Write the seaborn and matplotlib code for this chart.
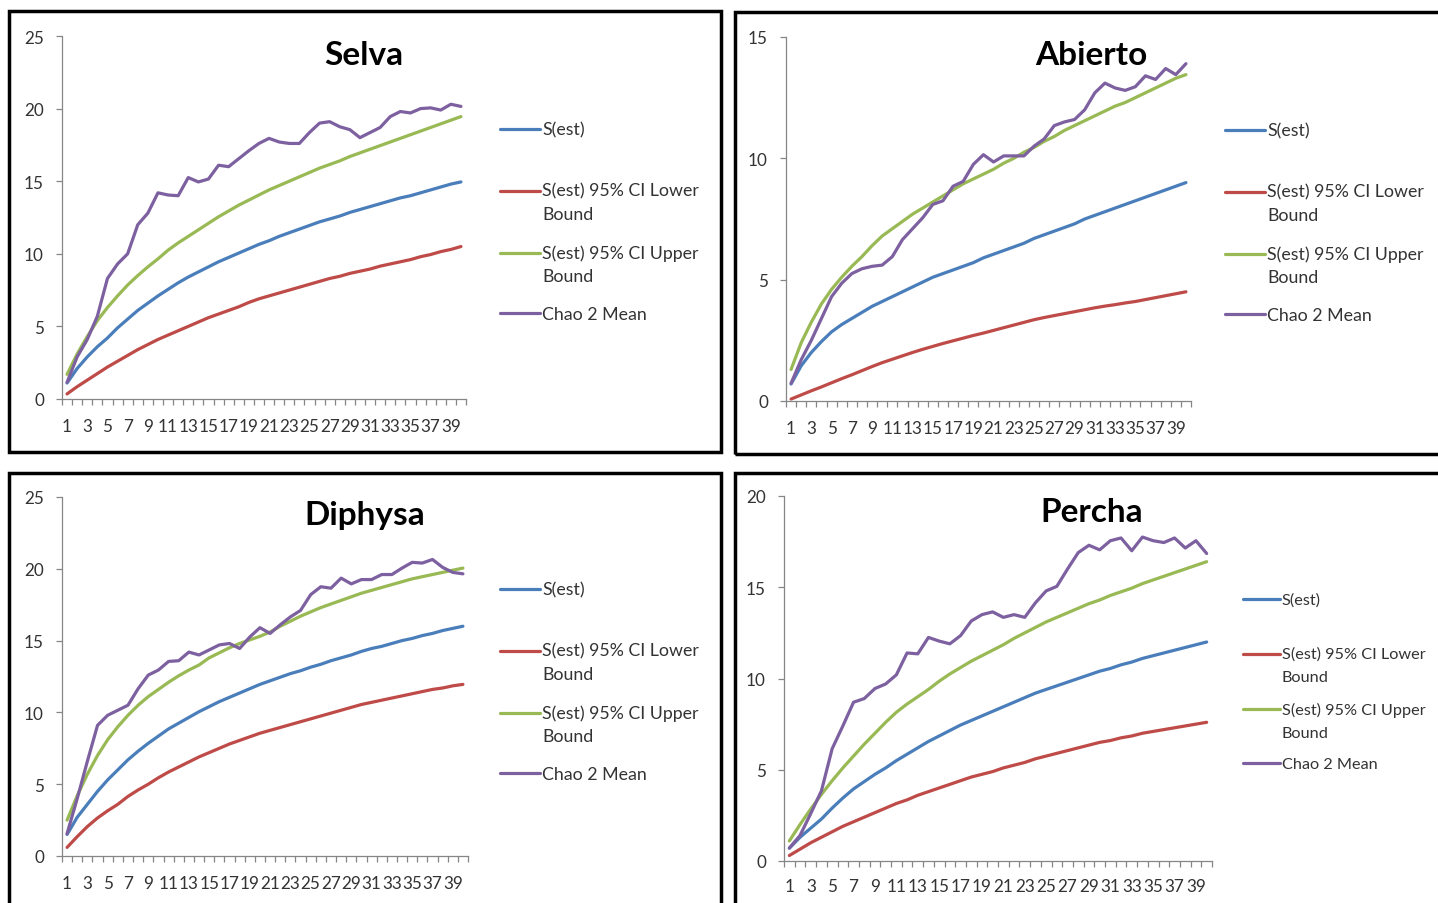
import numpy as np
import pandas as pd
import matplotlib
matplotlib.use("Agg")
import matplotlib.pyplot as plt
import seaborn as sns
from matplotlib.legend_handler import HandlerLine2D
from matplotlib.patches import Rectangle
from matplotlib.ticker import FixedLocator, NullFormatter

sns.set_theme(style="white")
plt.rcParams["font.family"] = ["Lato", "DejaVu Sans"]

# ---------------- data ----------------
samples = list(range(1, 41))
tick_positions = list(range(1, 40, 2))
tick_labels = [str(v) for v in tick_positions]
series_names = ["S(est)", "S(est) 95% CI Lower Bound", "S(est) 95% CI Upper Bound", "Chao 2 Mean"]
legend_labels = ["S(est)\n", "S(est) 95% CI Lower\nBound", "S(est) 95% CI Upper\nBound", "Chao 2 Mean"]
colors = ["#4A7EBB", "#BE4B48", "#98B954", "#7D60A0"]
panel_titles = ["Selva", "Abierto", "Diphysa", "Percha"]

selva_sest = [1.1, 2.1, 2.9, 3.6, 4.2, 4.9, 5.5, 6.1, 6.6, 7.1, 7.55, 8.0, 8.4, 8.75, 9.1, 9.45,
              9.75, 10.05, 10.35, 10.65, 10.9, 11.2, 11.45, 11.7, 11.95, 12.2, 12.4, 12.6, 12.85,
              13.05, 13.25, 13.45, 13.65, 13.85, 14.0, 14.2, 14.4, 14.6, 14.8, 14.95]
selva_lower = [0.35, 0.85, 1.3, 1.75, 2.2, 2.6, 3.0, 3.4, 3.75, 4.1, 4.4, 4.7, 5.0, 5.3, 5.6, 5.85,
               6.1, 6.35, 6.65, 6.9, 7.1, 7.3, 7.5, 7.7, 7.9, 8.1, 8.3, 8.45, 8.65, 8.8, 8.95, 9.15,
               9.3, 9.45, 9.6, 9.8, 9.95, 10.15, 10.3, 10.5]
selva_upper = [1.7, 3.1, 4.3, 5.4, 6.3, 7.1, 7.85, 8.5, 9.1, 9.65, 10.25, 10.75, 11.2, 11.65, 12.1,
               12.55, 12.95, 13.35, 13.7, 14.05, 14.4, 14.7, 15.0, 15.3, 15.6, 15.9, 16.15, 16.4,
               16.7, 16.95, 17.2, 17.45, 17.7, 17.95, 18.2, 18.45, 18.7, 18.95, 19.2, 19.45]
selva_chao = [1.15, 2.9, 4.1, 5.7, 8.3, 9.3, 10.0, 12.0, 12.8, 14.2, 14.05, 14.0, 15.25, 14.95,
              15.15, 16.1, 16.0, 16.55, 17.1, 17.6, 17.95, 17.7, 17.6, 17.6, 18.35, 19.0, 19.1,
              18.75, 18.55, 18.0, 18.35, 18.7, 19.45, 19.8, 19.7, 20.0, 20.05, 19.9, 20.3, 20.15]

abierto_sest = [0.7, 1.45, 2.0, 2.45, 2.85, 3.15, 3.4, 3.65, 3.9, 4.1, 4.3, 4.5, 4.7, 4.9, 5.1, 5.25,
                5.4, 5.55, 5.7, 5.9, 6.05, 6.2, 6.35, 6.5, 6.7, 6.85, 7.0, 7.15, 7.3, 7.5, 7.65,
                7.8, 7.95, 8.1, 8.25, 8.4, 8.55, 8.7, 8.85, 9.0]
abierto_lower = [0.08, 0.25, 0.42, 0.58, 0.75, 0.92, 1.08, 1.25, 1.42, 1.58, 1.72, 1.86, 2.0, 2.13,
                 2.25, 2.37, 2.48, 2.59, 2.7, 2.8, 2.91, 3.02, 3.13, 3.24, 3.35, 3.44, 3.52, 3.6,
                 3.68, 3.76, 3.84, 3.91, 3.97, 4.04, 4.1, 4.18, 4.26, 4.34, 4.42, 4.5]
abierto_upper = [1.3, 2.4, 3.25, 4.0, 4.6, 5.1, 5.55, 5.95, 6.4, 6.8, 7.1, 7.4, 7.7, 7.95, 8.2, 8.45,
                 8.7, 8.95, 9.15, 9.35, 9.55, 9.8, 10.0, 10.25, 10.45, 10.7, 10.9, 11.15, 11.35,
                 11.55, 11.75, 11.95, 12.15, 12.3, 12.5, 12.7, 12.9, 13.1, 13.3, 13.45]
abierto_chao = [0.73, 1.7, 2.5, 3.4, 4.3, 4.85, 5.25, 5.45, 5.55, 5.6, 5.95, 6.65, 7.1, 7.55, 8.1,
                8.25, 8.85, 9.05, 9.75, 10.15, 9.85, 10.1, 10.1, 10.1, 10.5, 10.8, 11.35, 11.5,
                11.6, 12.0, 12.7, 13.1, 12.9, 12.8, 12.95, 13.4, 13.25, 13.7, 13.45, 13.9]

diphysa_sest = [1.5, 2.7, 3.6, 4.5, 5.3, 6.0, 6.7, 7.3, 7.85, 8.35, 8.85, 9.25, 9.65, 10.05, 10.4,
                10.75, 11.05, 11.35, 11.65, 11.95, 12.2, 12.45, 12.7, 12.9, 13.15, 13.35, 13.6,
                13.8, 14.0, 14.25, 14.45, 14.6, 14.8, 15.0, 15.15, 15.35, 15.5, 15.7, 15.85, 16.0]
diphysa_lower = [0.6, 1.35, 2.05, 2.65, 3.15, 3.6, 4.15, 4.6, 5.0, 5.45, 5.85, 6.2, 6.55, 6.9, 7.2,
                 7.5, 7.8, 8.05, 8.3, 8.55, 8.75, 8.95, 9.15, 9.35, 9.55, 9.75, 9.95, 10.15, 10.35,
                 10.55, 10.7, 10.85, 11.0, 11.15, 11.3, 11.45, 11.6, 11.7, 11.85, 11.95]
diphysa_upper = [2.5, 4.2, 5.7, 7.0, 8.1, 9.0, 9.8, 10.5, 11.1, 11.6, 12.1, 12.55, 12.95, 13.3,
                 13.8, 14.15, 14.5, 14.8, 15.05, 15.3, 15.6, 16.0, 16.35, 16.7, 17.0, 17.3, 17.55,
                 17.8, 18.05, 18.3, 18.5, 18.7, 18.9, 19.1, 19.3, 19.45, 19.6, 19.75, 19.9, 20.05]
diphysa_chao = [1.56, 4.0, 6.6, 9.1, 9.8, 10.15, 10.5, 11.65, 12.6, 12.95, 13.55, 13.6, 14.2, 14.0,
                14.35, 14.7, 14.8, 14.45, 15.25, 15.9, 15.5, 16.1, 16.65, 17.1, 18.2, 18.75, 18.65,
                19.35, 18.95, 19.25, 19.25, 19.6, 19.6, 20.05, 20.45, 20.4, 20.65, 20.1, 19.75, 19.65]

percha_sest = [0.7, 1.3, 1.8, 2.3, 2.9, 3.45, 3.95, 4.35, 4.75, 5.1, 5.5, 5.85, 6.2, 6.55, 6.85,
               7.15, 7.45, 7.7, 7.95, 8.2, 8.45, 8.7, 8.95, 9.2, 9.4, 9.6, 9.8, 10.0, 10.2, 10.4,
               10.55, 10.75, 10.9, 11.1, 11.25, 11.4, 11.55, 11.7, 11.85, 12.0]
percha_lower = [0.3, 0.65, 1.0, 1.3, 1.6, 1.9, 2.15, 2.4, 2.65, 2.9, 3.15, 3.35, 3.6, 3.8, 4.0, 4.2,
                4.4, 4.6, 4.75, 4.9, 5.1, 5.25, 5.4, 5.6, 5.75, 5.9, 6.05, 6.2, 6.35, 6.5, 6.6,
                6.75, 6.85, 7.0, 7.1, 7.2, 7.3, 7.4, 7.5, 7.6]
percha_upper = [1.1, 2.0, 2.85, 3.65, 4.4, 5.1, 5.75, 6.4, 7.0, 7.6, 8.15, 8.6, 9.0, 9.4, 9.85,
                10.25, 10.6, 10.95, 11.25, 11.55, 11.85, 12.2, 12.5, 12.8, 13.1, 13.35, 13.6,
                13.85, 14.1, 14.3, 14.55, 14.75, 14.95, 15.2, 15.4, 15.6, 15.8, 16.0, 16.2, 16.4]
percha_chao = [0.71, 1.4, 2.6, 3.85, 6.15, 7.4, 8.7, 8.9, 9.45, 9.7, 10.2, 11.4, 11.35, 12.25,
               12.05, 11.9, 12.35, 13.15, 13.5, 13.65, 13.35, 13.5, 13.35, 14.15, 14.8, 15.05,
               16.0, 16.9, 17.3, 17.05, 17.55, 17.7, 17.0, 17.75, 17.55, 17.45, 17.7, 17.15,
               17.55, 16.85]

panel_series = {
    "Selva": [selva_sest, selva_lower, selva_upper, selva_chao],
    "Abierto": [abierto_sest, abierto_lower, abierto_upper, abierto_chao],
    "Diphysa": [diphysa_sest, diphysa_lower, diphysa_upper, diphysa_chao],
    "Percha": [percha_sest, percha_lower, percha_upper, percha_chao],
}
y_limits = {"Selva": 25, "Abierto": 15, "Diphysa": 25, "Percha": 20}

# ---------------- layout (pixels) ----------------
W, H = 1438, 904
fig = plt.figure(figsize=(W / 100, H / 100), dpi=100)
fig.patch.set_facecolor("white")

# axes boxes: x0, x1, y_top, y_bottom
axes_px = {
    "Selva": (62, 466, 37, 400),
    "Abierto": (786, 1191, 38, 402),
    "Diphysa": (62, 468, 498, 857),
    "Percha": (784, 1212, 497, 862),
}
# panel frames: x0, y0, x1, y1
frames_px = {
    "Selva": (9, 12, 721, 453),
    "Abierto": (735, 13, 1460, 455),
    "Diphysa": (9, 474, 721, 930),
    "Percha": (735, 474, 1460, 930),
}
titles_px = {"Selva": (364, 65), "Abierto": (1091, 65), "Diphysa": (365, 525), "Percha": (1092, 522)}
# legend: x of handle start, top anchor y, labelspacing, fontsize, linespacing, handle length px
legend_px = {"Selva": (500, 122, 1.27, 12.8, 1.53, 40),
             "Abierto": (1225, 123, 1.27, 12.8, 1.53, 40),
             "Diphysa": (500, 582, 1.27, 12.8, 1.53, 40),
             "Percha": (1243, 593, 1.05, 11.7, 1.85, 37)}
xtick_pad = {"Selva": 14, "Abierto": 14, "Diphysa": 14, "Percha": 12.5}

TEXT_COLOR = "#333333"
AXIS_COLOR = "#868686"
TICK_FS = 12.3


class ShiftedLineHandler(HandlerLine2D):
    def __init__(self, shift_pts=0.0, **kw):
        super().__init__(**kw)
        self.shift = shift_pts

    def create_artists(self, legend, orig_handle, xdescent, ydescent, width, height, fontsize, trans):
        artists = super().create_artists(legend, orig_handle, xdescent, ydescent, width, height,
                                         fontsize, trans)
        for a in artists:
            if hasattr(a, "get_ydata"):
                a.set_ydata(np.asarray(a.get_ydata(), dtype=float) + self.shift)
        return artists


for name in panel_titles:
    # frame
    fx0, fy0, fx1, fy1 = frames_px[name]
    fig.add_artist(Rectangle((fx0 / W, 1 - fy1 / H), (fx1 - fx0) / W, (fy1 - fy0) / H,
                             transform=fig.transFigure, fill=False, ec="black", lw=2.5,
                             clip_on=False))

    x0, x1, yt, yb = axes_px[name]
    ax = fig.add_axes([x0 / W, 1 - yb / H, (x1 - x0) / W, (yb - yt) / H])
    vals = panel_series[name]
    df = pd.DataFrame({
        "sample": samples * 4,
        "value": [v for s in vals for v in s],
        "series": [n for n in series_names for _ in samples],
    })
    sns.lineplot(data=df, x="sample", y="value", hue="series", hue_order=series_names,
                 palette=dict(zip(series_names, colors)), linewidth=2.3, errorbar=None,
                 legend=False, ax=ax)

    ax.set_xlim(0.5, 40.5)
    ax.set_ylim(0, y_limits[name])
    ax.set_xlabel("")
    ax.set_ylabel("")
    ax.set_facecolor("none")
    for s in ["top", "right"]:
        ax.spines[s].set_visible(False)
    for s in ["left", "bottom"]:
        ax.spines[s].set_color(AXIS_COLOR)
        ax.spines[s].set_linewidth(0.9)

    ax.set_yticks(np.arange(0, y_limits[name] + 1, 5))
    ax.set_yticklabels([str(int(v)) for v in np.arange(0, y_limits[name] + 1, 5)])
    ax.set_xticks(tick_positions)
    ax.set_xticklabels(tick_labels)
    ax.xaxis.set_minor_locator(FixedLocator(np.arange(0.5, 41, 1.0)))
    ax.xaxis.set_minor_formatter(NullFormatter())
    ax.tick_params(axis="x", which="major", length=0, pad=xtick_pad[name], labelsize=TICK_FS,
                   labelcolor=TEXT_COLOR)
    ax.tick_params(axis="x", which="minor", length=4, width=0.9, color=AXIS_COLOR, direction="out",
                   bottom=True)
    ax.tick_params(axis="y", which="major", length=4, width=0.9, color=AXIS_COLOR, direction="out",
                   pad=9, labelsize=TICK_FS, labelcolor=TEXT_COLOR, left=True)
    ax.grid(False)

    tx, ty = titles_px[name]
    fig.text(tx / W, 1 - ty / H, name, ha="center", va="baseline", fontsize=24,
             fontweight="bold", color="black")

    lines = ax.get_lines()[:4]
    lx, ly, lsp, lfs, lls, hlen = legend_px[name]
    shift = 8.3
    hmap = {lines[0]: ShiftedLineHandler(shift), lines[1]: ShiftedLineHandler(shift),
            lines[2]: ShiftedLineHandler(shift), lines[3]: ShiftedLineHandler(0.0)}
    leg = ax.legend(handles=lines, labels=legend_labels, loc="upper left",
                    bbox_to_anchor=(lx / W, 1 - ly / H), bbox_transform=fig.transFigure,
                    frameon=False, borderpad=0, borderaxespad=0, fontsize=lfs,
                    handlelength=hlen / (lfs * 100 / 72), handletextpad=0.12,
                    labelspacing=lsp, handler_map=hmap)
    for t in leg.get_texts():
        t.set_linespacing(lls)
        t.set_color(TEXT_COLOR)

fig.savefig("out.png", dpi=100, facecolor="white")
